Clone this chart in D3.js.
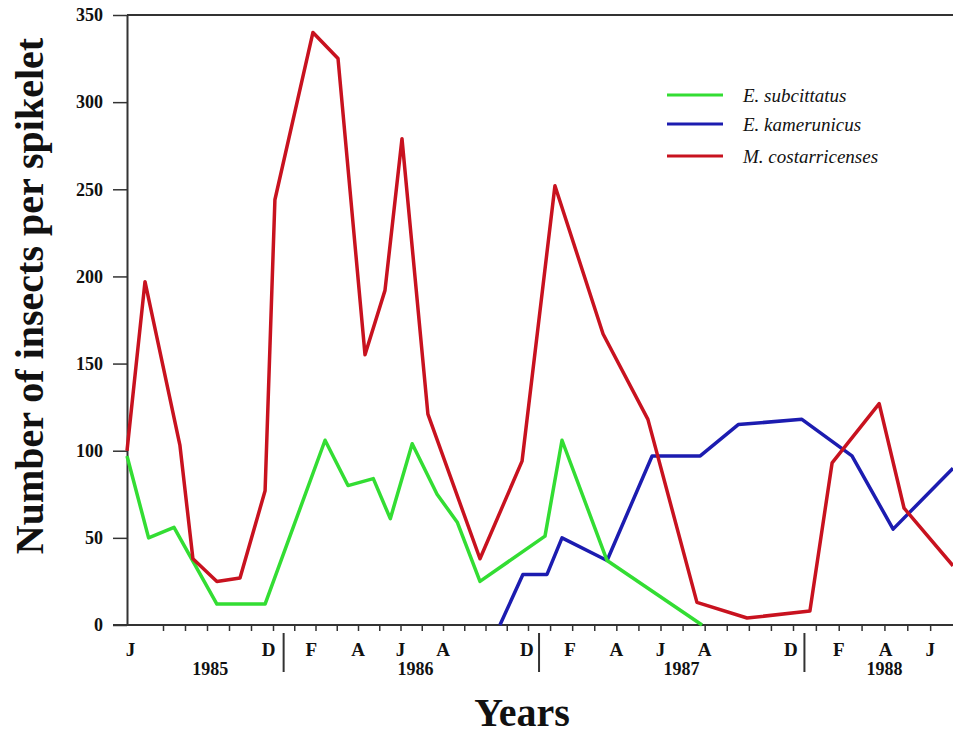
<!DOCTYPE html>
<html>
<head>
<meta charset="utf-8">
<script src="https://cdn.jsdelivr.net/npm/d3@7"></script>
<style>
  body { margin: 0; background: #fff; }
  svg { display: block; font-family: "Liberation Serif", "Times New Roman", serif; }
</style>
</head>
<body>
<svg id="chart" width="953" height="734"></svg>
<script>
// x values are months counted from Jan 1985 (= 0)
const subcittatusMonth = [5.0, 5.6, 6.5, 8.45, 10.64, 13.45, 14.53, 15.72, 16.52, 17.55, 18.72, 19.67, 20.74, 23.77, 24.54, 26.58, 30.88];
const subcittatusValue = [97, 50, 56, 12, 12, 106, 80, 84, 61, 104, 75, 59, 25, 51, 106, 37, 0];

const kamerunicusMonth = [21.68, 22.76, 23.86, 24.54, 26.58, 28.62, 30.8, 32.52, 35.39, 37.58, 39.38, 42.0];
const kamerunicusValue = [0, 29, 29, 50, 37, 97, 97, 115, 118, 97, 55, 90];

const costarricensesMonth = [5.0, 5.5, 6.77, 7.36, 8.45, 9.5, 10.64, 11.09, 12.88, 14.06, 15.33, 16.27, 17.07, 18.29, 20.74, 22.72, 24.22, 26.4, 28.43, 30.65, 32.92, 35.74, 36.71, 38.77, 39.86, 42.0];
const costarricensesValue = [100, 197, 103, 38, 25, 27, 77, 244, 340, 325, 155, 192, 279, 121, 38, 94, 252, 167, 118, 13, 4, 8, 93, 127, 67, 34];

const seriesNames = ["E. subcittatus", "E. kamerunicus", "M. costarricenses"];
const seriesColors = ["#33dd33", "#1c1cb0", "#c8121f"];

const yTicks = [0, 50, 100, 150, 200, 250, 300, 350];
const monthTicks = d3.range(6, 42);
const monthLabels = ["J", "D", "F", "A", "J", "A", "D", "F", "A", "J", "A", "D", "F", "A", "J"];
const monthLabelAt = [5.1, 10.8, 12.8, 15, 17, 19, 22.95, 24.9, 27, 29, 31, 34.9, 37, 39.05, 41];
const yearLabels = ["1985", "1986", "1987", "1988"];
const yearLabelAt = [8.15, 17.7, 29.95, 39.0];
const yearBreaks = [11.5, 23.5, 35.5];

const svg = d3.select("#chart");
const width = 953;
const height = 734;
const margin = { top: 15, right: 0, bottom: 109, left: 127 };
const bottomY = height - margin.bottom;

// the original axis is not perfectly even, so the scale is piecewise
const x = d3
  .scaleLinear()
  .domain([5, 6, 11, 23, 35, 42])
  .range([margin.left, 163, 273, 528, 793, width - margin.right]);

const y = d3
  .scaleLinear()
  .domain([0, 350])
  .range([bottomY, margin.top]);

const axisColor = "#333";

// top frame line
svg
  .append("line")
  .attr("x1", margin.left)
  .attr("x2", width)
  .attr("y1", margin.top)
  .attr("y2", margin.top)
  .attr("stroke", axisColor)
  .attr("stroke-width", 2);

// y axis
svg
  .append("g")
  .attr("class", "y-axis")
  .attr("transform", `translate(${margin.left},0)`)
  .call(d3.axisLeft(y).tickValues(yTicks).tickSize(14).tickPadding(10).tickSizeOuter(0))
  .call((g) => g.select(".domain").attr("stroke", axisColor).attr("stroke-width", 2))
  .call((g) => g.selectAll(".tick line").attr("stroke", axisColor).attr("stroke-width", 1.5))
  .call((g) =>
    g
      .selectAll(".tick text")
      .style("font-family", "'Liberation Serif', serif")
      .style("font-size", "18px")
      .style("font-weight", "bold")
      .attr("fill", "#111")
  );

// x axis: monthly ticks, no labels
svg
  .append("g")
  .attr("class", "x-axis")
  .attr("transform", `translate(0,${bottomY})`)
  .call(d3.axisBottom(x).tickValues(monthTicks).tickFormat("").tickSize(6).tickSizeOuter(0))
  .call((g) => g.select(".domain").remove())
  .call((g) => g.selectAll(".tick line").attr("stroke", axisColor).attr("stroke-width", 1.5));

svg
  .append("line")
  .attr("x1", margin.left - 14)
  .attr("x2", width)
  .attr("y1", bottomY)
  .attr("y2", bottomY)
  .attr("stroke", axisColor)
  .attr("stroke-width", 2);

svg
  .selectAll(".month-label")
  .data(monthLabels)
  .enter()
  .append("text")
  .attr("class", "month-label")
  .attr("x", (d, i) => x(monthLabelAt[i]))
  .attr("y", bottomY + 31)
  .attr("text-anchor", "middle")
  .style("font-size", "19px")
  .style("font-weight", "bold")
  .attr("fill", "#111")
  .text((d) => d);

svg
  .selectAll(".year-label")
  .data(yearLabels)
  .enter()
  .append("text")
  .attr("class", "year-label")
  .attr("x", (d, i) => x(yearLabelAt[i]))
  .attr("y", bottomY + 50)
  .attr("text-anchor", "middle")
  .style("font-size", "18px")
  .style("font-weight", "bold")
  .attr("fill", "#111")
  .text((d) => d);

svg
  .selectAll(".year-break")
  .data(yearBreaks)
  .enter()
  .append("line")
  .attr("class", "year-break")
  .attr("x1", (d) => x(d))
  .attr("x2", (d) => x(d))
  .attr("y1", bottomY + 8)
  .attr("y2", bottomY + 47)
  .attr("stroke", axisColor)
  .attr("stroke-width", 2);

// axis titles
svg
  .append("text")
  .attr("class", "x label")
  .attr("text-anchor", "middle")
  .attr("x", 522)
  .attr("y", 726)
  .style("font-size", "40px")
  .style("font-weight", "bold")
  .attr("fill", "#111")
  .text("Years");

svg
  .append("text")
  .attr("class", "y label")
  .attr("text-anchor", "middle")
  .attr("transform", "translate(43,296) rotate(-90)")
  .style("font-size", "40px")
  .style("font-weight", "bold")
  .attr("fill", "#111")
  .text("Number of insects per spikelet");

// series
const series = [
  { month: kamerunicusMonth, value: kamerunicusValue, color: seriesColors[1] },
  { month: subcittatusMonth, value: subcittatusValue, color: seriesColors[0] },
  { month: costarricensesMonth, value: costarricensesValue, color: seriesColors[2] },
];

const line = d3
  .line()
  .x((d) => x(d[0]))
  .y((d) => y(d[1]));

svg
  .selectAll(".series")
  .data(series)
  .enter()
  .append("path")
  .attr("class", "series")
  .attr("fill", "none")
  .attr("stroke", (d) => d.color)
  .attr("stroke-width", 3.5)
  .attr("stroke-linejoin", "round")
  .attr("d", (d) => line(d.month.map((m, i) => [m, d.value[i]])));

// legend
const legend = svg
  .selectAll(".legend")
  .data(seriesNames)
  .enter()
  .append("g")
  .attr("class", "legend")
  .attr("transform", (d, i) => `translate(667,${[95, 124, 156][i]})`);

legend
  .append("line")
  .attr("x1", 0)
  .attr("x2", 56)
  .attr("stroke", (d, i) => seriesColors[i])
  .attr("stroke-width", 3);

legend
  .append("text")
  .attr("x", 76)
  .attr("dy", "0.35em")
  .style("font-size", "19px")
  .style("font-style", "italic")
  .attr("fill", "#111")
  .text((d) => d);
</script>
</body>
</html>
